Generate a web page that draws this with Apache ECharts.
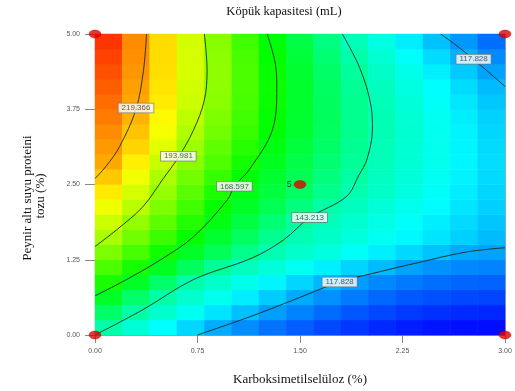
<!DOCTYPE html>
<html><head><meta charset="utf-8">
<script src="https://cdn.jsdelivr.net/npm/echarts@6/dist/echarts.min.js"></script>
<style>html,body{margin:0;padding:0;background:#fff}#c{width:515px;height:391px}</style>
</head><body><div id="c"></div><script>
// Cell centres of the response grid (x: Karboksimetilselüloz %, y: Peynir altı suyu proteini tozu %)
const cmcCenters = [0.1,0.3,0.5,0.7,0.9,1.1,1.3,1.5,1.7,1.9,2.1,2.3,2.5,2.7,2.9];
const wpcCenters = [0.125,0.375,0.625,0.875,1.125,1.375,1.625,1.875,2.125,2.375,2.625,2.875,3.125,3.375,3.625,3.875,4.125,4.375,4.625,4.875];
// Köpük kapasitesi (mL), one row per wpc centre (bottom to top)
const response = [
 [143.4,137.0,130.7,124.4,118.1,113.7,109.8,106.4,103.4,100.8,98.6,96.9,95.6,94.8,94.4],
 [153.2,143.8,137.9,132.3,126.7,121.1,116.0,112.0,108.5,105.5,103.0,101.0,99.6,98.6,98.1],
 [162.7,153.0,143.3,138.2,133.1,128.0,122.9,117.8,114.0,110.7,108.0,105.8,104.2,103.1,102.6],
 [172.0,163.1,152.8,142.9,138.3,133.6,129.0,124.4,119.7,115.8,112.9,110.6,108.8,107.7,107.1],
 [179.5,171.8,163.6,154.8,146.0,140.5,136.4,132.4,128.3,124.3,120.3,116.7,114.4,112.9,112.1],
 [187.0,179.0,171.0,163.2,155.6,147.9,141.9,138.5,135.1,131.6,128.2,124.8,121.4,118.0,116.9],
 [193.6,185.5,177.4,169.3,161.8,154.4,147.0,141.7,138.7,135.7,132.6,129.6,126.6,123.5,120.5],
 [199.0,190.7,182.2,173.7,165.7,158.6,151.4,144.3,140.6,137.5,134.4,131.3,128.2,125.1,122.0],
 [204.5,196.0,187.2,178.4,169.5,162.8,156.3,149.8,143.4,140.0,136.7,133.4,130.1,126.8,123.5],
 [209.6,200.1,190.8,181.9,173.0,165.6,159.7,153.8,147.9,142.5,138.9,135.2,131.6,128.0,124.4],
 [214.8,204.6,194.4,185.5,176.6,168.0,162.0,156.0,149.9,143.9,139.9,136.2,132.5,128.8,125.1],
 [219.5,209.0,198.5,189.0,180.2,171.3,164.3,158.1,151.9,145.7,140.9,137.0,133.2,129.3,125.4],
 [221.9,212.9,202.2,191.9,183.0,174.1,166.2,159.7,153.2,146.6,141.3,137.3,133.3,129.2,125.2],
 [224.0,215.6,205.2,194.7,185.8,177.0,168.2,161.3,154.4,147.5,141.6,137.4,133.1,128.9,124.6],
 [226.3,218.1,207.5,197.0,187.4,178.2,169.0,161.8,154.7,147.6,141.5,137.1,132.6,128.2,123.7],
 [228.6,219.9,209.5,199.0,189.0,179.3,169.6,162.0,154.6,147.3,141.1,136.3,131.6,126.9,122.2],
 [230.7,221.0,210.5,199.8,189.6,179.8,170.1,161.9,154.1,146.3,140.2,135.2,130.2,125.3,120.3],
 [232.8,222.3,211.4,200.5,189.9,179.8,169.8,161.4,153.2,145.1,139.0,133.5,128.1,122.6,117.0],
 [234.9,223.1,211.7,200.4,189.5,179.2,168.9,160.2,151.6,143.0,137.1,131.1,125.1,119.1,113.4],
 [236.9,224.0,211.9,200.1,188.8,178.0,167.5,158.5,149.4,141.1,134.5,127.9,121.3,115.0,109.0]
];
const responseMin = 92.44, responseMax = 244.75;
// Contour lines: [cmc, wpc]
const contour219 = [[0.377,5],[0.355,4.4],[0.30,3.75],[0.18,3.13],[0.08,2.8],[0,2.6]];
const contour194 = [[0.80,5],[0.82,4.4],[0.80,3.9],[0.72,3.4],[0.61,2.95],[0.50,2.6],[0.35,2.13],[0.16,1.75],[0,1.47]];
const contour169 = [[1.26,5],[1.32,4.5],[1.33,4.1],[1.30,3.42],[1.13,2.75],[1.02,2.47],[0.97,2.25],[0.72,1.63],[0.48,1.25],[0.23,0.92],[0,0.65]];
const contour143 = [[1.81,5],[1.94,4.42],[2.02,3.8],[2.03,3.42],[1.99,2.92],[1.93,2.65],[1.84,2.3],[1.57,1.95],[1.38,1.58],[1.15,1.28],[0.72,0.92],[0.35,0.42],[0,0]];
const contour118a = [[0.75,0],[1.13,0.3],[1.45,0.58],[1.79,0.88],[2.1,1.06],[2.36,1.2],[2.72,1.38],[3,1.45]];
const contour118b = [[2.53,5],[2.65,4.8],[2.77,4.58],[3,4.13]];
// Contour label texts and positions
const contourLabels = ['219.366','193.981','168.597','143.213','117.828','117.828'];
const contourLabelPos = [[0.30,3.77],[0.61,2.97],[1.02,2.47],[1.57,1.95],[1.79,0.88],[2.77,4.58]];
// Design points
const designPoints = [[0,0],[0,5],[3,0],[3,5],[1.5,2.5]];
const designLabels = ['','','','','5'];
// Tick labels
const xTickLabels = ['0.00','0.75','1.50','2.25','3.00'];
const yTickLabels = ['0.00','1.25','2.50','3.75','5.00'];

const heatData = [];
response.forEach((row, j) => row.forEach((v, i) => heatData.push([i, j, v])));

const contourStyle = {color:'#1c2a1c', width:0.9};
function contourSeries(d){
  return {type:'line', data:d, xAxisIndex:0, yAxisIndex:0, symbol:'none', smooth:0.35,
    lineStyle:contourStyle, z:3, silent:true, animation:false, clip:true};
}
const chart = echarts.init(document.getElementById('c'), null, {renderer:'canvas'});
chart.setOption({
  animation:false,
  backgroundColor:'#fff',
  grid:{left:95, right:10, top:34, bottom:56},
  xAxis:[
    {type:'value', min:0, max:3, interval:0.75, position:'bottom',
     axisLine:{show:true, lineStyle:{color:'#999', width:1}},
     axisTick:{show:true, length:8, lineStyle:{color:'#888'}},
     axisLabel:{fontSize:7, color:'#555', margin:13, fontFamily:'Liberation Sans',
       formatter:(v)=>xTickLabels[Math.round(v/0.75)]},
     splitLine:{show:false}},
    {type:'category', data:cmcCenters.map(String), position:'top',
     axisLine:{show:true, lineStyle:{color:'#aaa'}}, axisTick:{show:false}, axisLabel:{show:false}, splitLine:{show:false}}
  ],
  yAxis:[
    {type:'value', min:0, max:5, interval:1.25, position:'left',
     axisLine:{show:true, lineStyle:{color:'#999', width:1}},
     axisTick:{show:true, length:10, lineStyle:{color:'#888'}},
     axisLabel:{fontSize:7, color:'#555', margin:15, fontFamily:'Liberation Sans',
       formatter:(v)=>yTickLabels[Math.round(v/1.25)]},
     splitLine:{show:false}},
    {type:'category', data:wpcCenters.map(String), position:'right',
     axisLine:{show:true, lineStyle:{color:'#aaa'}}, axisTick:{show:false}, axisLabel:{show:false}, splitLine:{show:false}}
  ],
  visualMap:{type:'continuous', show:false, min:responseMin, max:responseMax, dimension:2, seriesIndex:0,
    inRange:{color:['#0000ff','#00ffff','#00ff00','#ffff00','#ff0000']}},
  graphic:[
    {type:'text', x:284, y:12, style:{text:'Köpük kapasitesi (mL)', font:'12.5px "Liberation Serif"', fill:'#111', align:'center', verticalAlign:'middle'}},
    {type:'text', x:300, y:380, style:{text:'Karboksimetilselüloz (%)', font:'13px "Liberation Serif"', fill:'#111', align:'center', verticalAlign:'middle'}},
    {type:'text', x:28, y:198, rotation:Math.PI/2, style:{text:'Peynir altı suyu proteini', font:'13px "Liberation Serif"', fill:'#111', align:'center', verticalAlign:'middle'}},
    {type:'text', x:41, y:196, rotation:Math.PI/2, style:{text:'tozu (%)', font:'13px "Liberation Serif"', fill:'#111', align:'center', verticalAlign:'middle'}}
  ],
  series:[
    {type:'heatmap', data:heatData, xAxisIndex:1, yAxisIndex:1, z:1, silent:true, itemStyle:{borderWidth:0}},
    contourSeries(contour219),
    contourSeries(contour194),
    contourSeries(contour169),
    contourSeries(contour143),
    contourSeries(contour118a),
    contourSeries(contour118b),
    {type:'scatter', xAxisIndex:0, yAxisIndex:0, z:5, silent:true, symbolSize:0, itemStyle:{color:'transparent'},
     data:contourLabelPos.map((p,i)=>({value:p, name:contourLabels[i]})),
     label:{show:true, position:'inside', formatter:(p)=>p.name, fontSize:8, color:'#333', fontFamily:'Liberation Sans',
       backgroundColor:'#fff', borderColor:'#777', borderWidth:0.8, padding:[1,3,0,3]}},
    {type:'scatter', xAxisIndex:0, yAxisIndex:0, z:6, clip:false, silent:true, symbol:'circle', symbolSize:[12,8],
     itemStyle:{color:'#e00000', borderColor:'#b00000', borderWidth:0.5},
     data:designPoints.map((p,i)=>({value:p, name:designLabels[i]})),
     label:{show:true, position:'left', distance:2, formatter:(p)=>p.name, fontSize:9, color:'#222', fontFamily:'Liberation Sans'}}
  ]
});
</script></body></html>
